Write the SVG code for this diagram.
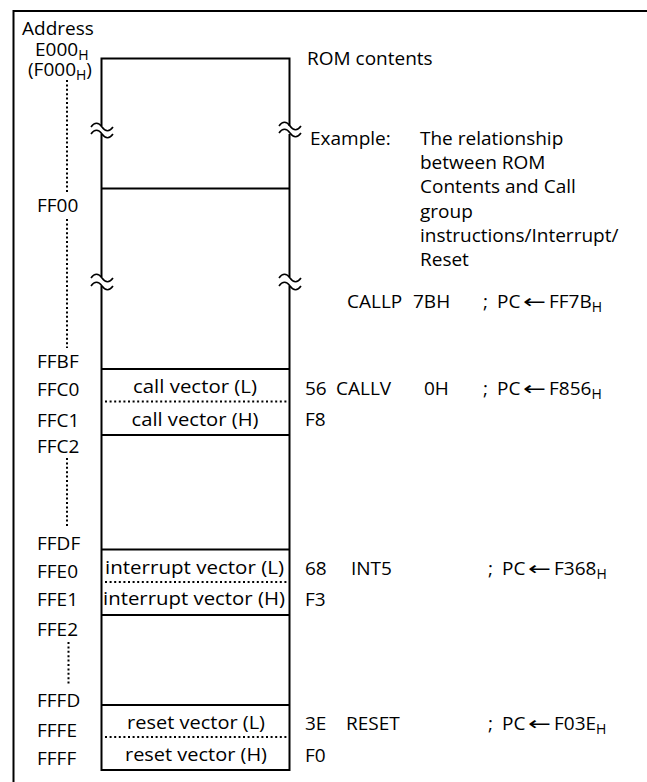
<svg xmlns="http://www.w3.org/2000/svg" width="647" height="782" viewBox="0 0 647 782">
<style>
  text { font-family: "Open Sans", "Noto Sans", "DejaVu Sans", sans-serif; font-size: 19px; fill: #000; }
  .sub { font-size: 14px; }
  .arr { font-family: "DejaVu Sans", sans-serif; font-size: 19px; }
  .ln { stroke: #000; stroke-width: 2; fill: none; }
  .dot { stroke: #000; stroke-width: 2; fill: none; stroke-dasharray: 2 2.6; }
  .vdot { stroke: #000; stroke-width: 2; fill: none; stroke-dasharray: 2 2.4; }
  .brk { stroke: #000; stroke-width: 1.6; fill: none; }
</style>
<rect width="647" height="782" fill="#fff"/>

<g id="frame">
  <path class="ln" d="M13.5,782 V11 H647"/>
</g>

<g id="address-column">
  <text x="22" y="35">Address<tspan x="35" y="56">E000</tspan><tspan class="sub" dy="4">H</tspan><tspan x="28" y="76">(F000</tspan><tspan class="sub" dy="4">H</tspan><tspan dy="-4">)</tspan></text>
  <text x="37" y="212">FF00</text>
  <text x="37" y="368">FFBF</text>
  <text x="37" y="396">FFC0</text>
  <text x="37" y="427">FFC1</text>
  <text x="37" y="453">FFC2</text>
  <text x="37" y="550">FFDF</text>
  <text x="37" y="578">FFE0</text>
  <text x="37" y="606">FFE1</text>
  <text x="37" y="636">FFE2</text>
  <text x="37" y="707">FFFD</text>
  <text x="37" y="737">FFFE</text>
  <text x="37" y="765">FFFF</text>
</g>

<g id="connectors">
  <line class="vdot" x1="67" y1="80" x2="67" y2="192"/>
  <line class="vdot" x1="67" y1="219" x2="67" y2="348"/>
  <line class="vdot" x1="67" y1="458" x2="67" y2="528"/>
  <line class="vdot" x1="68.5" y1="642" x2="68.5" y2="686"/>
</g>

<g id="rom-box">
  <path class="ln" d="M101.5,126 V58.5 H289.5 V126"/>
  <path class="ln" d="M101.5,134 V277"/>
  <path class="ln" d="M289.5,134 V277"/>
  <path class="ln" d="M101.5,286 V770 H289.5 V286"/>
  <line class="ln" x1="101.5" y1="188.5" x2="289.5" y2="188.5"/>
  <line class="ln" x1="101.5" y1="369" x2="289.5" y2="369"/>
  <line class="ln" x1="101.5" y1="435" x2="289.5" y2="435"/>
  <line class="ln" x1="101.5" y1="549.5" x2="289.5" y2="549.5"/>
  <line class="ln" x1="101.5" y1="615" x2="289.5" y2="615"/>
  <line class="ln" x1="101.5" y1="705" x2="289.5" y2="705"/>
  <line class="dot" x1="105" y1="401.5" x2="288" y2="401.5"/>
  <line class="dot" x1="105" y1="582" x2="288" y2="582"/>
  <line class="dot" x1="105" y1="737" x2="288" y2="737"/>
</g>

<g id="breaks">
  <path class="brk" d="M91,127 c3.5,-5 7.5,-5 11,0 s7.5,5 11,0"/>
  <path class="brk" d="M91,134 c3.5,-5 7.5,-5 11,0 s7.5,5 11,0"/>
  <path class="brk" d="M279,126 c3.5,-5 7.5,-5 11,0 s7.5,5 11,0"/>
  <path class="brk" d="M279,133 c3.5,-5 7.5,-5 11,0 s7.5,5 11,0"/>
  <path class="brk" d="M91,278 c3.5,-5 7.5,-5 11,0 s7.5,5 11,0"/>
  <path class="brk" d="M91,286 c3.5,-5 7.5,-5 11,0 s7.5,5 11,0"/>
  <path class="brk" d="M279,278 c3.5,-5 7.5,-5 11,0 s7.5,5 11,0"/>
  <path class="brk" d="M279,286 c3.5,-5 7.5,-5 11,0 s7.5,5 11,0"/>
</g>

<g id="vectors">
  <text x="195" y="393" text-anchor="middle" textLength="124" lengthAdjust="spacingAndGlyphs">call vector (L)</text>
  <text x="195" y="426" text-anchor="middle" textLength="127" lengthAdjust="spacingAndGlyphs">call vector (H)</text>
  <text x="194.5" y="574" text-anchor="middle" textLength="179" lengthAdjust="spacingAndGlyphs">interrupt vector (L)</text>
  <text x="194" y="605" text-anchor="middle" textLength="182" lengthAdjust="spacingAndGlyphs">interrupt vector (H)</text>
  <text x="196" y="729" text-anchor="middle" textLength="138" lengthAdjust="spacingAndGlyphs">reset vector (L)</text>
  <text x="196" y="761" text-anchor="middle" textLength="142" lengthAdjust="spacingAndGlyphs">reset vector (H)</text>
</g>

<g id="example-text">
  <text x="307" y="65">ROM contents</text>
  <text x="310" y="145">Example:</text>
  <text x="420" y="145">The relationship</text>
  <text x="420" y="169">between ROM</text>
  <text x="420" y="193">Contents and Call</text>
  <text x="420" y="218">group</text>
  <text x="420" y="242">instructions/Interrupt/</text>
  <text x="420" y="266">Reset</text>
</g>

<g id="instructions">
  <text x="347" y="308">CALLP</text>
  <text x="413" y="308">7BH</text>
  <text x="483" y="308">;</text>
  <text x="497" y="308">PC</text>
  <text class="arr" x="523" y="308" textLength="23" lengthAdjust="spacingAndGlyphs">←</text>
  <text x="549" y="308">FF7B<tspan class="sub" dy="4">H</tspan></text>

  <text x="305" y="395">56</text>
  <text x="336" y="395">CALLV</text>
  <text x="424" y="395">0H</text>
  <text x="483" y="395">;</text>
  <text x="497" y="395">PC</text>
  <text class="arr" x="523" y="395" textLength="23" lengthAdjust="spacingAndGlyphs">←</text>
  <text x="549" y="395">F856<tspan class="sub" dy="4">H</tspan></text>
  <text x="305" y="426">F8</text>

  <text x="305" y="575">68</text>
  <text x="351" y="575">INT5</text>
  <text x="488" y="575">;</text>
  <text x="502" y="575">PC</text>
  <text class="arr" x="528" y="575" textLength="23" lengthAdjust="spacingAndGlyphs">←</text>
  <text x="554" y="575">F368<tspan class="sub" dy="4">H</tspan></text>
  <text x="305" y="606">F3</text>

  <text x="305" y="730">3E</text>
  <text x="346" y="730">RESET</text>
  <text x="488" y="730">;</text>
  <text x="502" y="730">PC</text>
  <text class="arr" x="528" y="730" textLength="23" lengthAdjust="spacingAndGlyphs">←</text>
  <text x="554" y="730">F03E<tspan class="sub" dy="4">H</tspan></text>
  <text x="305" y="762">F0</text>
</g>
</svg>
